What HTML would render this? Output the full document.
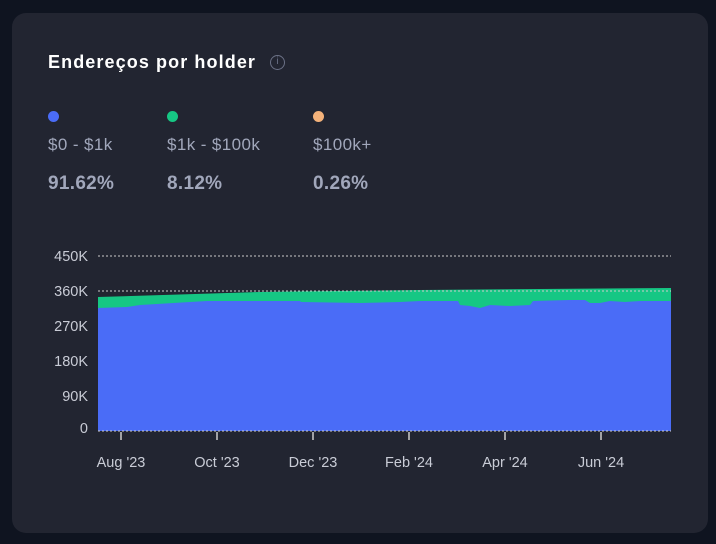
<!DOCTYPE html>
<html><head><style>
body{margin:0;width:716px;height:544px;background:#0f1420;font-family:"Liberation Sans",sans-serif;overflow:hidden}
.card{position:absolute;left:12px;top:13px;width:696px;height:520px;background:#222531;border-radius:14px}
.t{position:absolute;color:#fff;font-weight:bold;font-size:18px;letter-spacing:1.1px}
.l{position:absolute;color:#a1a7bb;font-size:17px;letter-spacing:0.4px}
.v{position:absolute;color:#a1a7bb;font-size:19px;font-weight:bold;letter-spacing:0.3px}
.d{position:absolute;width:11px;height:11px;border-radius:50%}
</style></head><body>
<div class="card"></div>
<div class="t" style="left:48px;top:52px">Endereços por holder</div>
<div style="position:absolute;left:270px;top:55px;width:15px;height:15px;border:1.5px solid #6b7186;border-radius:50%;box-sizing:border-box;color:#6b7186;font-size:10px;text-align:center;line-height:12px">i</div>
<div class="d" style="left:48px;top:111px;background:#4a6cf7"></div>
<div class="d" style="left:167px;top:111px;background:#16c784"></div>
<div class="d" style="left:313px;top:111px;background:#f4b27a"></div>
<div class="l" style="left:48px;top:135px">$0 - $1k</div>
<div class="l" style="left:167px;top:135px">$1k - $100k</div>
<div class="l" style="left:313px;top:135px">$100k+</div>
<div class="v" style="left:48px;top:173px">91.62%</div>
<div class="v" style="left:167px;top:173px">8.12%</div>
<div class="v" style="left:313px;top:173px">0.26%</div>
<svg width="716" height="544" style="position:absolute;left:0;top:0" font-family="Liberation Sans" font-size="14.5" fill="#c9ccd6">
<polygon fill="#16c784" points="98,431 98,297 260,292 420,290 671,288 671,431"/>
<polygon fill="#4a6cf7" points="98,431 98,308 127,307 140,305 207,301 300,301 301,302 360,303 400,302 420,301 458,301 460,305 470,306 480,308 490,305 510,306 530,305 533,301 570,300 585,300 590,303 600,303 610,301 625,302 640,301 671,301 671,431"/>
<line x1="98" y1="256" x2="671" y2="256" stroke="#ccc" stroke-dasharray="2,2"/>
<line x1="98" y1="291" x2="671" y2="291" stroke="#ccc" stroke-dasharray="2,2"/>
<line x1="98" y1="431" x2="671" y2="431" stroke="#ccc" stroke-dasharray="2,2"/>
<g text-anchor="end"><text x="88" y="261">450K</text><text x="88" y="296">360K</text><text x="88" y="331">270K</text><text x="88" y="366">180K</text><text x="88" y="401">90K</text><text x="88" y="433">0</text></g>
<g stroke="#ccc" stroke-width="1.5"><line x1="121" y1="432" x2="121" y2="440"/><line x1="217" y1="432" x2="217" y2="440"/><line x1="313" y1="432" x2="313" y2="440"/><line x1="409" y1="432" x2="409" y2="440"/><line x1="505" y1="432" x2="505" y2="440"/><line x1="601" y1="432" x2="601" y2="440"/></g>
<g text-anchor="middle"><text x="121" y="467">Aug '23</text><text x="217" y="467">Oct '23</text><text x="313" y="467">Dec '23</text><text x="409" y="467">Feb '24</text><text x="505" y="467">Apr '24</text><text x="601" y="467">Jun '24</text></g>
</svg>
</body></html>
